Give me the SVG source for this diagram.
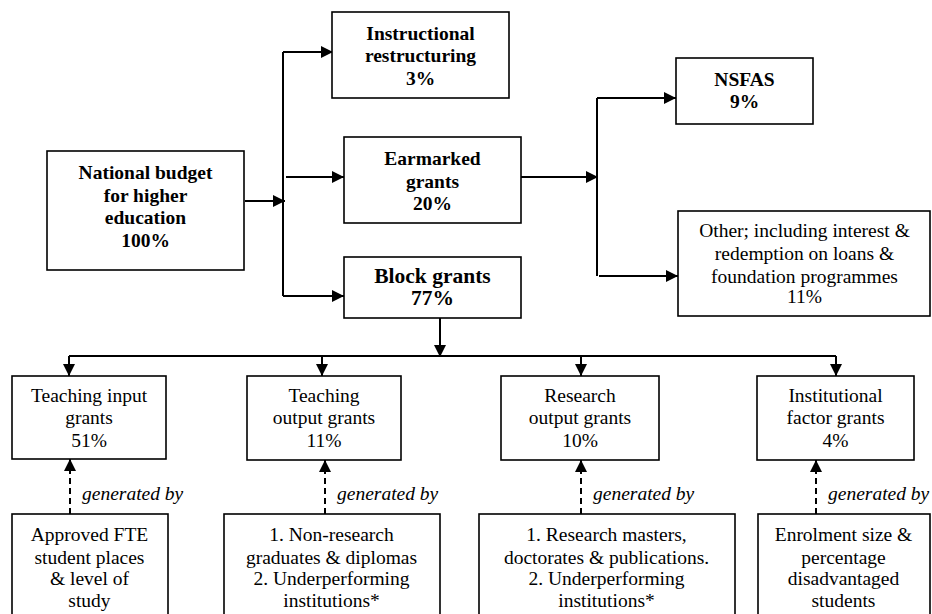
<svg xmlns="http://www.w3.org/2000/svg" width="932" height="614" viewBox="0 0 932 614">
<style>
  .box { fill: #ffffff; stroke: #000000; stroke-width: 1.6; }
  .ln { fill: none; stroke: #000; stroke-width: 2; }
  .arr { fill: none; stroke: #000; stroke-width: 2; marker-end: url(#ah); }
  .dash { fill: none; stroke: #000; stroke-width: 2; stroke-dasharray: 6 4; marker-end: url(#ah); }
</style>
<defs>
  <marker id="ah" viewBox="0 0 12 12" refX="12" refY="6" markerWidth="12" markerHeight="12" markerUnits="userSpaceOnUse" orient="auto">
    <path d="M0,0 L12,6 L0,12 z" fill="#000"/>
  </marker>
</defs>
<rect width="932" height="614" fill="#ffffff"/>

<g id="connectors">
  <path class="arr" d="M245,201 H285"/>
  <path class="ln" d="M283,52 V296"/>
  <path class="arr" d="M283,52 H333"/>
  <path class="arr" d="M286,177 H344"/>
  <path class="arr" d="M283,296 H344"/>
  <path class="arr" d="M521,177 H598"/>
  <path class="ln" d="M597,98 V276"/>
  <path class="arr" d="M597,98 H676"/>
  <path class="arr" d="M599,276 H678"/>
  <path class="arr" d="M440,318 V357"/>
  <path class="ln" d="M69,356 H836"/>
  <path class="arr" d="M69,356 V376"/>
  <path class="arr" d="M322,356 V376"/>
  <path class="arr" d="M581,356 V376"/>
  <path class="arr" d="M836,356 V376"/>
  <path class="dash" d="M70,514 V459"/>
  <path class="dash" d="M325,514 V460"/>
  <path class="dash" d="M581,514 V460"/>
  <path class="dash" d="M816,514 V460"/>
  <g font-family="'Liberation Serif', serif" font-size="19.5" font-style="italic" fill="#000">
    <text x="82" y="500">generated by</text>
    <text x="337" y="500">generated by</text>
    <text x="593" y="500">generated by</text>
    <text x="828" y="500">generated by</text>
  </g>
</g>

<g id="national" font-family="'Liberation Serif', serif" font-size="19.5" font-weight="bold" text-anchor="middle">
  <rect class="box" x="47" y="151" width="197" height="119"/>
  <text x="145.5" y="179">National budget</text>
  <text x="145.5" y="202">for higher</text>
  <text x="145.5" y="224">education</text>
  <text x="145.5" y="247">100%</text>
</g>

<g id="instructional" font-family="'Liberation Serif', serif" font-size="19.5" font-weight="bold" text-anchor="middle">
  <rect class="box" x="332" y="12" width="177" height="86"/>
  <text x="420.5" y="40">Instructional</text>
  <text x="420.5" y="62">restructuring</text>
  <text x="420.5" y="85">3%</text>
</g>

<g id="earmarked" font-family="'Liberation Serif', serif" font-size="19.5" font-weight="bold" text-anchor="middle">
  <rect class="box" x="344" y="137" width="177" height="86"/>
  <text x="432.5" y="165">Earmarked</text>
  <text x="432.5" y="188">grants</text>
  <text x="432.5" y="210">20%</text>
</g>

<g id="block" font-family="'Liberation Serif', serif" font-size="21.5" font-weight="bold" text-anchor="middle">
  <rect class="box" x="344" y="257" width="177" height="61"/>
  <text x="432.5" y="283">Block grants</text>
  <text x="432.5" y="305">77%</text>
</g>

<g id="nsfas" font-family="'Liberation Serif', serif" font-size="19.5" font-weight="bold" text-anchor="middle">
  <rect class="box" x="676" y="58" width="137" height="66"/>
  <text x="744.5" y="86">NSFAS</text>
  <text x="744.5" y="108">9%</text>
</g>

<g id="other" font-family="'Liberation Serif', serif" font-size="19.5" text-anchor="middle">
  <rect class="box" x="678" y="211" width="252" height="105"/>
  <text x="804.5" y="237">Other; including interest &amp;</text>
  <text x="804.5" y="260">redemption on loans &amp;</text>
  <text x="804.5" y="283">foundation programmes</text>
  <text x="804.5" y="303">11%</text>
</g>

<g id="teaching-input" font-family="'Liberation Serif', serif" font-size="19.5" text-anchor="middle">
  <rect class="box" x="12" y="376" width="154" height="83"/>
  <text x="89" y="401.5">Teaching input</text>
  <text x="89" y="424">grants</text>
  <text x="89" y="447">51%</text>
</g>

<g id="teaching-output" font-family="'Liberation Serif', serif" font-size="19.5" text-anchor="middle">
  <rect class="box" x="247" y="376" width="154" height="84"/>
  <text x="324" y="401.5">Teaching</text>
  <text x="324" y="424">output grants</text>
  <text x="324" y="447">11%</text>
</g>

<g id="research-output" font-family="'Liberation Serif', serif" font-size="19.5" text-anchor="middle">
  <rect class="box" x="501" y="376" width="158" height="84"/>
  <text x="580" y="401.5">Research</text>
  <text x="580" y="424">output grants</text>
  <text x="580" y="447">10%</text>
</g>

<g id="institutional-factor" font-family="'Liberation Serif', serif" font-size="19.5" text-anchor="middle">
  <rect class="box" x="757" y="376" width="157" height="84"/>
  <text x="835.5" y="401.5">Institutional</text>
  <text x="835.5" y="424">factor grants</text>
  <text x="835.5" y="447">4%</text>
</g>

<g id="approved-fte" font-family="'Liberation Serif', serif" font-size="19.5" text-anchor="middle">
  <rect class="box" x="12" y="514" width="156" height="110"/>
  <text x="89.5" y="541">Approved FTE</text>
  <text x="89.5" y="563.5">student places</text>
  <text x="89.5" y="585">&amp; level of</text>
  <text x="89.5" y="607">study</text>
</g>

<g id="non-research" font-family="'Liberation Serif', serif" font-size="19.5" text-anchor="middle">
  <rect class="box" x="224" y="514" width="216" height="110"/>
  <text x="331.5" y="541">1. Non-research</text>
  <text x="331.5" y="563.5">graduates &amp; diplomas</text>
  <text x="331.5" y="585">2. Underperforming</text>
  <text x="331.5" y="607">institutions*</text>
</g>

<g id="research-masters" font-family="'Liberation Serif', serif" font-size="19.5" text-anchor="middle">
  <rect class="box" x="479" y="514" width="256" height="110"/>
  <text x="606.5" y="541">1. Research masters,</text>
  <text x="606.5" y="563.5">doctorates &amp; publications.</text>
  <text x="606.5" y="585">2. Underperforming</text>
  <text x="606.5" y="607">institutions*</text>
</g>

<g id="enrolment" font-family="'Liberation Serif', serif" font-size="19.5" text-anchor="middle">
  <rect class="box" x="758" y="514" width="172" height="110"/>
  <text x="843.5" y="541">Enrolment size &amp;</text>
  <text x="843.5" y="563.5">percentage</text>
  <text x="843.5" y="585">disadvantaged</text>
  <text x="843.5" y="607">students</text>
</g>
</svg>
